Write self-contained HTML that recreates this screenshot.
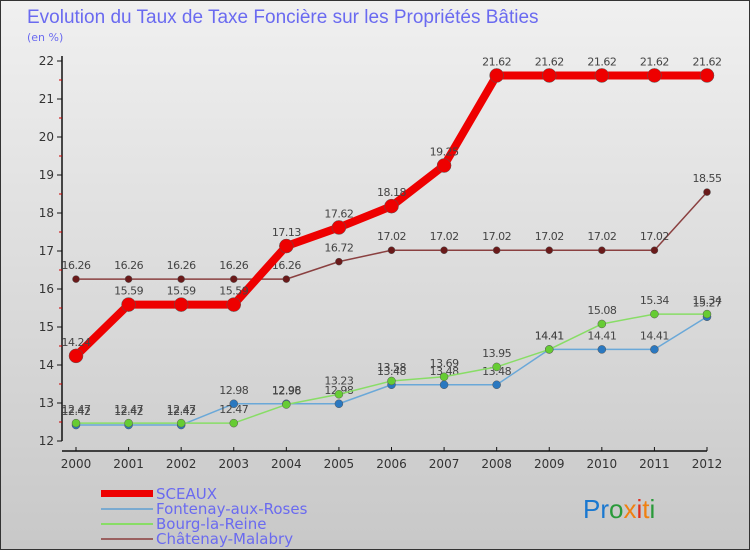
<!DOCTYPE html>
<html><head><meta charset="utf-8"><style>
body{margin:0}
#c{width:750px;height:550px;position:relative;background:linear-gradient(#f0f0f0,#c8c8c8);border:1px solid #333;box-sizing:border-box;font-family:"DejaVu Sans","Liberation Sans",sans-serif}
</style></head><body>
<div id="c">
<svg id="s" width="750" height="550" xmlns="http://www.w3.org/2000/svg">
<text x="26" y="22" font-size="19" fill="#6a6af0" font-family="Liberation Sans, sans-serif">Evolution du Taux de Taxe Foncière sur les Propriétés Bâties</text>
<text x="26" y="40" font-size="11" fill="#6a6af0">(en %)</text>
<g id="axes"></g><g id="series"></g>
<g>
<rect x="100" y="489" width="52" height="7" fill="#e00"/>
<rect x="100" y="507" width="52" height="2" fill="#7aaad0"/>
<rect x="100" y="522" width="52" height="2" fill="#88dd66"/>
<rect x="100" y="537" width="52" height="2" fill="#9a6060"/>
<text x="155" y="498" font-size="15" fill="#6a6af0">SCEAUX</text>
<text x="155" y="513" font-size="15" fill="#6a6af0">Fontenay-aux-Roses</text>
<text x="155" y="528" font-size="15" fill="#6a6af0">Bourg-la-Reine</text>
<text x="155" y="543" font-size="15" fill="#6a6af0">Châtenay-Malabry</text>
</g>
<text x="582" y="517" font-size="26" font-family="Liberation Sans, sans-serif"><tspan fill="#1a78d0">Pr</tspan><tspan fill="#2a9a3a">o</tspan><tspan fill="#f08010">x</tspan><tspan fill="#e03020">i</tspan><tspan fill="#f08010">t</tspan><tspan fill="#2a9a3a">i</tspan></text>
</svg></div>
<script>
const years=[2000,2001,2002,2003,2004,2005,2006,2007,2008,2009,2010,2011,2012];
const sceaux=[14.24,15.59,15.59,15.59,17.13,17.62,18.18,19.25,21.62,21.62,21.62,21.62,21.62];
const fontenay=[12.42,12.42,12.42,12.98,12.98,12.98,13.48,13.48,13.48,14.41,14.41,14.41,15.27];
const bourg=[12.47,12.47,12.47,12.47,12.96,13.23,13.58,13.69,13.95,14.41,15.08,15.34,15.34];
const chatenay=[16.26,16.26,16.26,16.26,16.26,16.72,17.02,17.02,17.02,17.02,17.02,17.02,18.55];
const yTicks=[12,13,14,15,16,17,18,19,20,21,22];
const NS="http://www.w3.org/2000/svg";
const X=i=>75+i*(706-75)/(years.length-1);
const Y=v=>440-(v-12)*38;
function mk(t,a,p){const e=document.createElementNS(NS,t);for(const k in a)e.setAttribute(k,a[k]);p.appendChild(e);return e;}
const ax=document.getElementById('axes');
let l=mk('line',{x1:61,y1:55,x2:61,y2:440,stroke:'#111','stroke-width':1.5},ax);


l=mk('line',{x1:61,y1:450,x2:706,y2:450,stroke:'#111','stroke-width':1.5},ax);


yTicks.forEach(v=>{
 mk('line',{x1:56,y1:Y(v),x2:61,y2:Y(v),stroke:'#111'},ax);
 if(v<22)mk('line',{x1:58,y1:Y(v+0.5),x2:61,y2:Y(v+0.5),stroke:'#c00'},ax);
 const t=mk('text',{x:53,y:Y(v)+4,'font-size':12,fill:'#333','text-anchor':'end'},ax);t.textContent=v;
 
 
});
years.forEach((yr,i)=>{
 mk('line',{x1:X(i),y1:446,x2:X(i),y2:450,stroke:'#111'},ax);
 const t=mk('text',{x:X(i),y:467,'font-size':12,fill:'#333','text-anchor':'middle'},ax);t.textContent=yr;
 
 
});
const sg=document.getElementById('series');
function draw(name,data,color,w,r,dot){
 const g=mk('g',{},sg);
 
 
 mk('polyline',{points:data.map((v,i)=>X(i)+','+Y(v)).join(' '),fill:'none',stroke:color,'stroke-width':w,'stroke-linejoin':'round'},g);
 data.forEach((v,i)=>{
  const c=mk('circle',{cx:X(i),cy:Y(v),r:r,fill:dot,stroke:'#555','stroke-width':0.5},g);
  
  
  const t=mk('text',{x:X(i),y:Y(v)-10,'font-size':11,fill:'#444','text-anchor':'middle','letter-spacing':'-0.5'},g);
  t.textContent=v.toFixed(2);
  
  
 });
}
draw('chatenay',chatenay,'#8a4040',1.5,3.5,'#6a1a1a');
draw('fontenay',fontenay,'#6aa8d8',1.5,4,'#2a78c0');
draw('bourg',bourg,'#88dd66',1.5,4,'#66cc33');
draw('sceaux',sceaux,'#ee0000',8,7,'#ee0000');
</script>
</body></html>
